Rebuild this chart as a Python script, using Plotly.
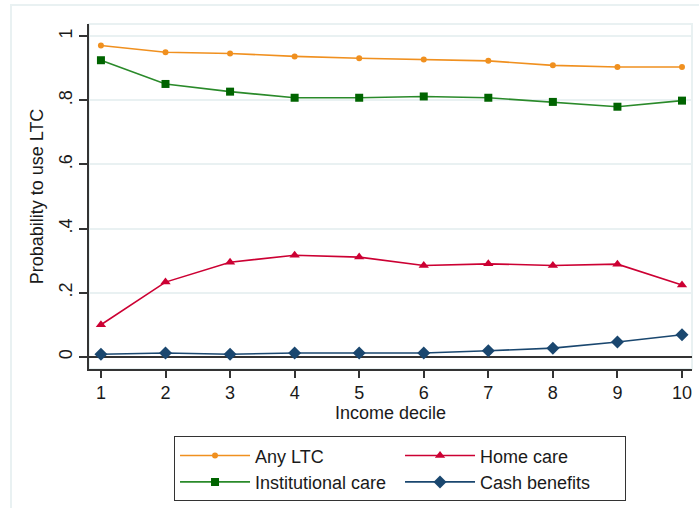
import plotly.graph_objects as go

deciles = [1, 2, 3, 4, 5, 6, 7, 8, 9, 10]
any_ltc = [0.971, 0.950, 0.946, 0.937, 0.931, 0.927, 0.923, 0.909, 0.904, 0.904]
institutional = [0.925, 0.851, 0.827, 0.808, 0.808, 0.812, 0.808, 0.795, 0.780, 0.799]
home_care = [0.100, 0.233, 0.295, 0.317, 0.311, 0.285, 0.290, 0.285, 0.289, 0.224]
cash_benefits = [0.008, 0.012, 0.008, 0.012, 0.012, 0.012, 0.019, 0.027, 0.046, 0.069]

y_tickvals = [0, 0.2, 0.4, 0.6, 0.8, 1]
y_ticktext = ["0", ".2", ".4", ".6", ".8", "1"]
x_ticktext = [str(d) for d in deciles]

FONT = "Liberation Sans, Arial, sans-serif"
GRID = "#e9f1f2"
FS = 18

fig = go.Figure()
fig.add_trace(go.Scatter(x=deciles, y=any_ltc, name="Any LTC", mode="lines+markers",
                         line=dict(color="#f0901f", width=1.6),
                         marker=dict(symbol="circle", size=6, color="#f0901f")))
fig.add_trace(go.Scatter(x=deciles, y=home_care, name="Home care", mode="lines+markers",
                         line=dict(color="#cc0033", width=1.6),
                         marker=dict(symbol="triangle-up", size=9, color="#cc0033")))
fig.add_trace(go.Scatter(x=deciles, y=institutional, name="Institutional care", mode="lines+markers",
                         line=dict(color="#2a8a2a", width=1.6),
                         marker=dict(symbol="square", size=8, color="#006400")))
fig.add_trace(go.Scatter(x=deciles, y=cash_benefits, name="Cash benefits", mode="lines+markers",
                         line=dict(color="#1a476f", width=1.6),
                         marker=dict(symbol="diamond", size=10, color="#1a476f")))

fig.update_layout(
    width=699, height=508,
    margin=dict(l=89, r=7, t=24, b=139, autoexpand=False),
    paper_bgcolor="white", plot_bgcolor="white",
    font=dict(family=FONT, size=FS, color="#1a1a1a"),
    xaxis=dict(
        range=[0.815, 10.155], tickvals=deciles, ticktext=x_ticktext,
        showgrid=False, zeroline=False,
        showline=True, linecolor="#333333", linewidth=1.5,
        ticks="outside", ticklen=7, tickwidth=1.5, tickcolor="#333333",
        tickfont=dict(size=FS),
        title=dict(text="Income decile", font=dict(size=FS), standoff=4),
    ),
    yaxis=dict(
        range=[-0.038, 1.038], tickvals=y_tickvals, ticktext=y_ticktext,
        tickangle=-90,
        showgrid=True, gridcolor=GRID, gridwidth=2,
        zeroline=True, zerolinecolor="#333333", zerolinewidth=1.5,
        showline=True, linecolor="#333333", linewidth=1.5,
        ticks="outside", ticklen=8, tickwidth=1.5, tickcolor="#333333",
        tickfont=dict(size=FS),
        title=dict(text="Probability to use LTC", font=dict(size=FS), standoff=8),
    ),
    legend=dict(
        orientation="h", x=0.141, y=-0.195, xanchor="left", yanchor="top",
        itemwidth=70, entrywidth=140, entrywidthmode="pixels",
        bordercolor="#333333", borderwidth=1, bgcolor="white",
        font=dict(size=FS), tracegroupgap=0,
    ),
    shapes=[
        dict(type="rect", xref="paper", yref="paper", x0=0, x1=1, y0=0, y1=1,
             line=dict(color=GRID, width=2), layer="below"),
        dict(type="rect", xref="paper", yref="paper", x0=-0.1294, x1=1.05, y0=-0.45, y1=1.055,
             line=dict(color=GRID, width=2), layer="below"),
    ],
)

fig.write_html("out.html", config={"displayModeBar": False},
               post_script="document.body.style.margin='0';")
